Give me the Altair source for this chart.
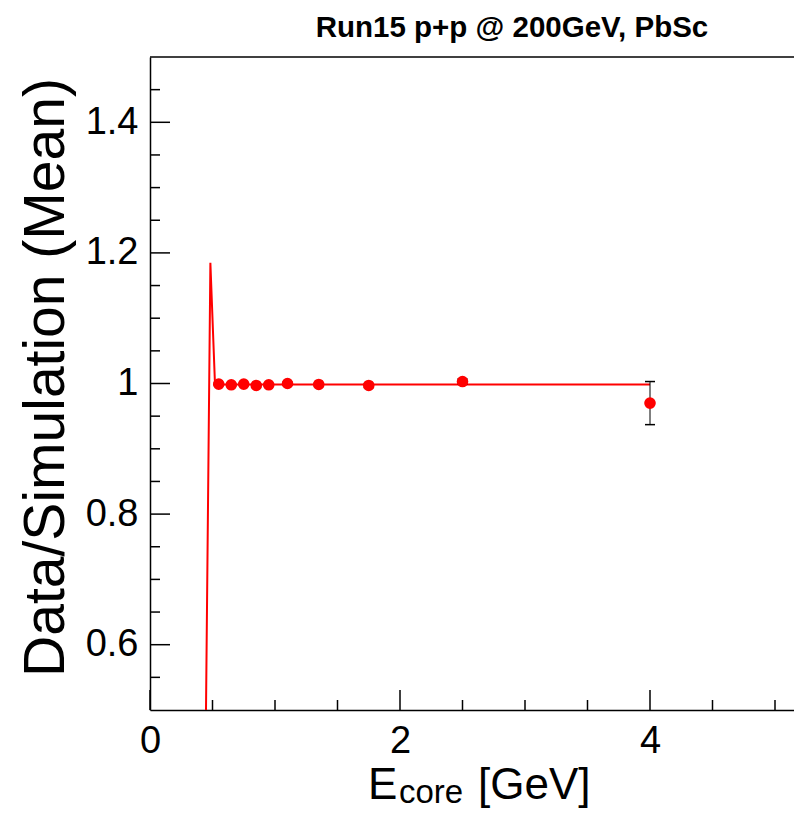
import altair as alt
import pandas as pd

# ---- data ----
e_core = [0.55, 0.65, 0.75, 0.85, 0.95, 1.10, 1.35, 1.75, 2.50, 4.00]
ratio = [0.999, 0.998, 0.999, 0.997, 0.998, 1.000, 0.9985, 0.997, 1.003, 0.970]
ratio_err = [0.002, 0.002, 0.002, 0.002, 0.002, 0.002, 0.002, 0.003, 0.004, 0.033]

fit_x = [0.448, 0.483, 0.520, 4.00]
fit_y = [0.50, 1.185, 0.9985, 0.9985]

x_major = [0, 2, 4]
x_minor = [0.5, 1.0, 1.5, 2.5, 3.0, 3.5, 4.5, 5.0]
y_major = [0.6, 0.8, 1.0, 1.2, 1.4]
y_minor = [0.55, 0.65, 0.70, 0.75, 0.85, 0.90, 0.95, 1.05, 1.10, 1.15,
           1.25, 1.30, 1.35, 1.45]

title_text = "Run15 p+p @ 200GeV, PbSc"
y_title = "Data/Simulation (Mean)"

# ---- layout ----
W, H = 644, 653
FONT = "Liberation Sans"
RED = "#ff0000"

xscale = alt.Scale(domain=[0, 5.152], nice=False, zero=False)
yscale = alt.Scale(domain=[0.5, 1.5], nice=False, zero=False)

pts_df = pd.DataFrame({"e": e_core, "r": ratio, "err": ratio_err})
pts_df["lo"] = pts_df["r"] - pts_df["err"]
pts_df["hi"] = pts_df["r"] + pts_df["err"]
fit_df = pd.DataFrame({"e": fit_x, "r": fit_y})

x_axis = alt.Axis(values=x_major, format="~g", ticks=False, tickSize=0, grid=False,
                  labelFontSize=38, labelPadding=12, labelFont=FONT, labelColor="black",
                  domainColor="black", domainWidth=1.5, title=None, labelFlush=False)
y_axis = alt.Axis(values=y_major, format="~g", ticks=False, tickSize=0, grid=False,
                  labelFontSize=38, labelPadding=12, labelFont=FONT, labelColor="black",
                  domainColor="black", domainWidth=1.5, title=y_title,
                  titleFont=FONT, titleFontSize=57, titleFontWeight="normal",
                  titleColor="black", titleAngle=270, titleX=-87, titleY=320,
                  titleAlign="center", titleBaseline="alphabetic", labelFlush=False)


def X(field):
    return alt.X(field, scale=xscale, axis=x_axis)


def Y(field):
    return alt.Y(field, scale=yscale, axis=y_axis)


# fit / line
line = alt.Chart(fit_df).mark_line(color=RED, strokeWidth=2, clip=True).encode(
    x=X("e:Q"), y=Y("r:Q"), order=alt.Order("e:Q"),
)

# error bars
err_v = alt.Chart(pts_df).mark_rule(color="black", strokeWidth=1).encode(
    x=X("e:Q"), y=Y("lo:Q"), y2="hi:Q",
)
cap_hi = alt.Chart(pts_df).mark_rule(color="black", strokeWidth=1.5, xOffset=-5, x2Offset=5).encode(
    x=X("e:Q"), x2="e:Q", y=Y("hi:Q"),
)
cap_lo = alt.Chart(pts_df).mark_rule(color="black", strokeWidth=1.5, xOffset=-5, x2Offset=5).encode(
    x=X("e:Q"), x2="e:Q", y=Y("lo:Q"),
)

points = alt.Chart(pts_df).mark_circle(size=135, color=RED, opacity=1).encode(
    x=X("e:Q"), y=Y("r:Q"),
)


# inward ticks (ROOT style)
def xticks(vals, length):
    return alt.Chart(pd.DataFrame({"v": vals})).mark_rule(color="black", strokeWidth=1.5).encode(
        x=X("v:Q"), y=alt.value(H), y2=alt.value(H - length),
    )


def yticks(vals, length):
    return alt.Chart(pd.DataFrame({"v": vals})).mark_rule(color="black", strokeWidth=1.5).encode(
        y=Y("v:Q"), x=alt.value(0), x2=alt.value(length),
    )


one = pd.DataFrame({"a": [0]})
top_frame = alt.Chart(one).mark_rule(color="black", strokeWidth=1.5).encode(
    x=alt.value(0), x2=alt.value(W), y=alt.value(0)
)


def label(text, x, y, size, weight="normal", align="left"):
    return alt.Chart(one).mark_text(text=text, font=FONT, fontSize=size, fontWeight=weight,
                                    align=align, baseline="alphabetic", color="black").encode(
        x=alt.value(x), y=alt.value(y)
    )


title = label(title_text, 362, -20, 29.5, weight="bold", align="center")
xt_E = label("E", 218, 742, 44)
xt_sub = label("core", 249, 746, 33)
xt_unit = label("[GeV]", 328, 742, 44)

chart = alt.layer(
    line, err_v, cap_hi, cap_lo, points,
    xticks(x_major, 20), xticks(x_minor, 10),
    yticks(y_major, 20), yticks(y_minor, 10),
    top_frame, title, xt_E, xt_sub, xt_unit,
).properties(
    width=W, height=H,
    padding={"left": 142, "top": 49, "right": 0, "bottom": 100},
    autosize="none",
    background="white",
).configure_view(stroke=None)

chart.save("out.html", embed_options={"renderer": "svg", "actions": False})
